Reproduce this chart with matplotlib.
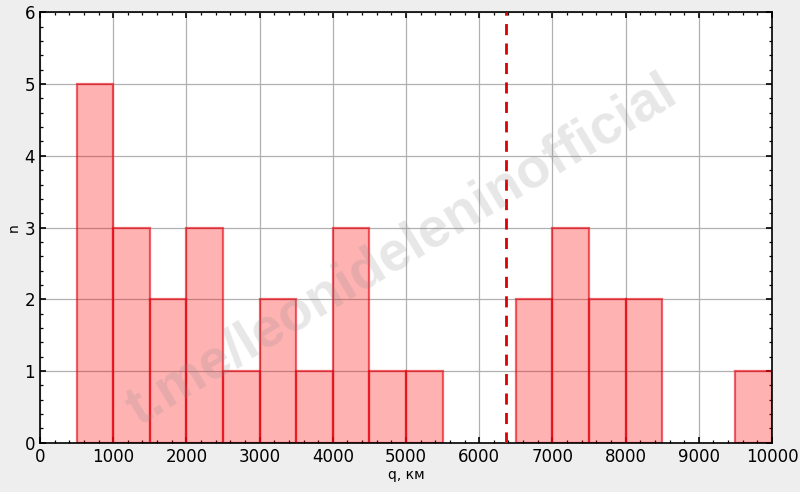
import matplotlib
matplotlib.use("Agg")
import matplotlib.pyplot as plt
from matplotlib.ticker import AutoMinorLocator, MultipleLocator
import numpy as np

bin_edges = [500, 1000, 1500, 2000, 2500, 3000, 3500, 4000, 4500, 5000, 5500,
             6000, 6500, 7000, 7500, 8000, 8500, 9000, 9500, 10000]
counts = [5, 3, 2, 3, 1, 2, 1, 3, 1, 1, 0, 0, 2, 3, 2, 2, 0, 0, 1]
earth_radius = 6371
watermark = "t.me/leonideleninofficial"

fig = plt.figure(figsize=(8, 4.92), dpi=100, facecolor="#eeeeee")
ax = fig.add_axes([0.05, 0.1, 0.915, 0.875])
ax.set_facecolor("white")

lefts = bin_edges[:-1]
widths = np.diff(bin_edges)
for l, w, c in zip(lefts, widths, counts):
    if c > 0:
        ax.bar(l, c, width=w, align="edge", facecolor=(1, 0, 0, 0.3),
               edgecolor=(0.9, 0, 0.05, 0.6), linewidth=1.6, zorder=2)

ax.axvline(earth_radius, color="#dd0000", linestyle="--", linewidth=2, dashes=(4, 3), zorder=3)

ax.set_xlim(0, 10000)
ax.set_ylim(0, 6)
ax.xaxis.set_major_locator(MultipleLocator(1000))
ax.yaxis.set_major_locator(MultipleLocator(1))
ax.xaxis.set_minor_locator(AutoMinorLocator(5))
ax.yaxis.set_minor_locator(AutoMinorLocator(5))
ax.tick_params(which="both", direction="in", top=True, right=True)
ax.tick_params(which="major", length=4.5, width=1.2, labelsize=12)
ax.tick_params(which="minor", length=2.5, width=0.9)
for s in ax.spines.values():
    s.set_linewidth(1.2)
ax.grid(True, which="major", color="#b0b0b0", linewidth=0.9, zorder=0)
ax.set_axisbelow(True)
ax.set_xlabel("q, км", fontsize=10, labelpad=2)
ax.set_ylabel("n", fontsize=10, labelpad=3)

fig.text(0.502, 0.49, watermark, fontsize=40, fontweight="bold", family="Liberation Sans",
         color="#888888", alpha=0.2, rotation=31, ha="center", va="center", zorder=10)

fig.savefig("out.png", dpi=100, facecolor=fig.get_facecolor())
